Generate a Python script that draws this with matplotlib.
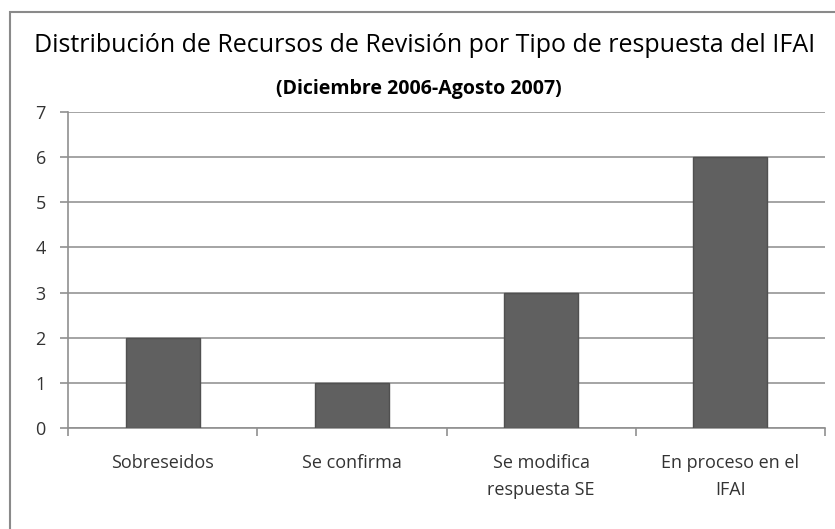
import matplotlib
matplotlib.use("Agg")
import matplotlib.pyplot as plt
from matplotlib.patches import Rectangle
import numpy as np

categories = ["Sobreseidos", "Se confirma", "Se modifica\nrespuesta SE", "En proceso en el\nIFAI"]
values = [2, 1, 3, 6]
yticks = [0, 1, 2, 3, 4, 5, 6, 7]
title = "Distribución de Recursos de Revisión por Tipo de respuesta del IFAI"
subtitle = "(Diciembre 2006-Agosto 2007)"

plt.rcParams['font.family'] = ['Open Sans', 'DejaVu Sans']

fig = plt.figure(figsize=(8.35, 5.29), dpi=100)
fig.patch.set_facecolor("white")
fig.patches.append(Rectangle((10/835, -0.1), 1.2, 1 - 12/529 + 0.1, transform=fig.transFigure,
                             fill=False, edgecolor="#8a8a8a", linewidth=1.5))

ax = fig.add_axes([68/835, 1 - 428/529, (825 - 68)/835, (428 - 112)/529])
x = np.arange(len(categories))
ax.bar(x, values, width=0.39, color="#606060", edgecolor="#505050", linewidth=1, zorder=3)
ax.set_xlim(-0.5, len(categories) - 0.5)
ax.set_ylim(0, 7)
ax.set_yticks(yticks)
ax.yaxis.grid(True, color="#a4a4a4", linewidth=1.4, zorder=0)
ax.set_xticks(np.arange(-0.5, len(categories), 1.0))
ax.set_xticklabels([])
ax.set_xticks(x, minor=True)
ax.set_xticklabels(categories, minor=True, fontsize=13, color="#333333", linespacing=1.6)
ax.tick_params(axis="x", which="major", length=6, color="#909090", width=1.2, direction="out")
ax.tick_params(axis="x", which="minor", length=0, pad=19)
ax.tick_params(axis="y", length=6, color="#909090", width=1.2, labelsize=13, labelcolor="#333333", pad=10)
for s in ["top", "right"]:
    ax.spines[s].set_visible(False)
ax.spines["left"].set_color("#909090")
ax.spines["bottom"].set_color("#909090")
ax.spines["left"].set_linewidth(1.2)
ax.spines["bottom"].set_linewidth(1.2)

fig.text(0.509, 1 - 46/529, title, ha="center", va="center", fontsize=18, color="black")
fig.text(0.501, 1 - 89/529, subtitle, ha="center", va="center", fontsize=14, fontweight="bold", color="black")

fig.savefig("out.png", dpi=100, facecolor="white")
